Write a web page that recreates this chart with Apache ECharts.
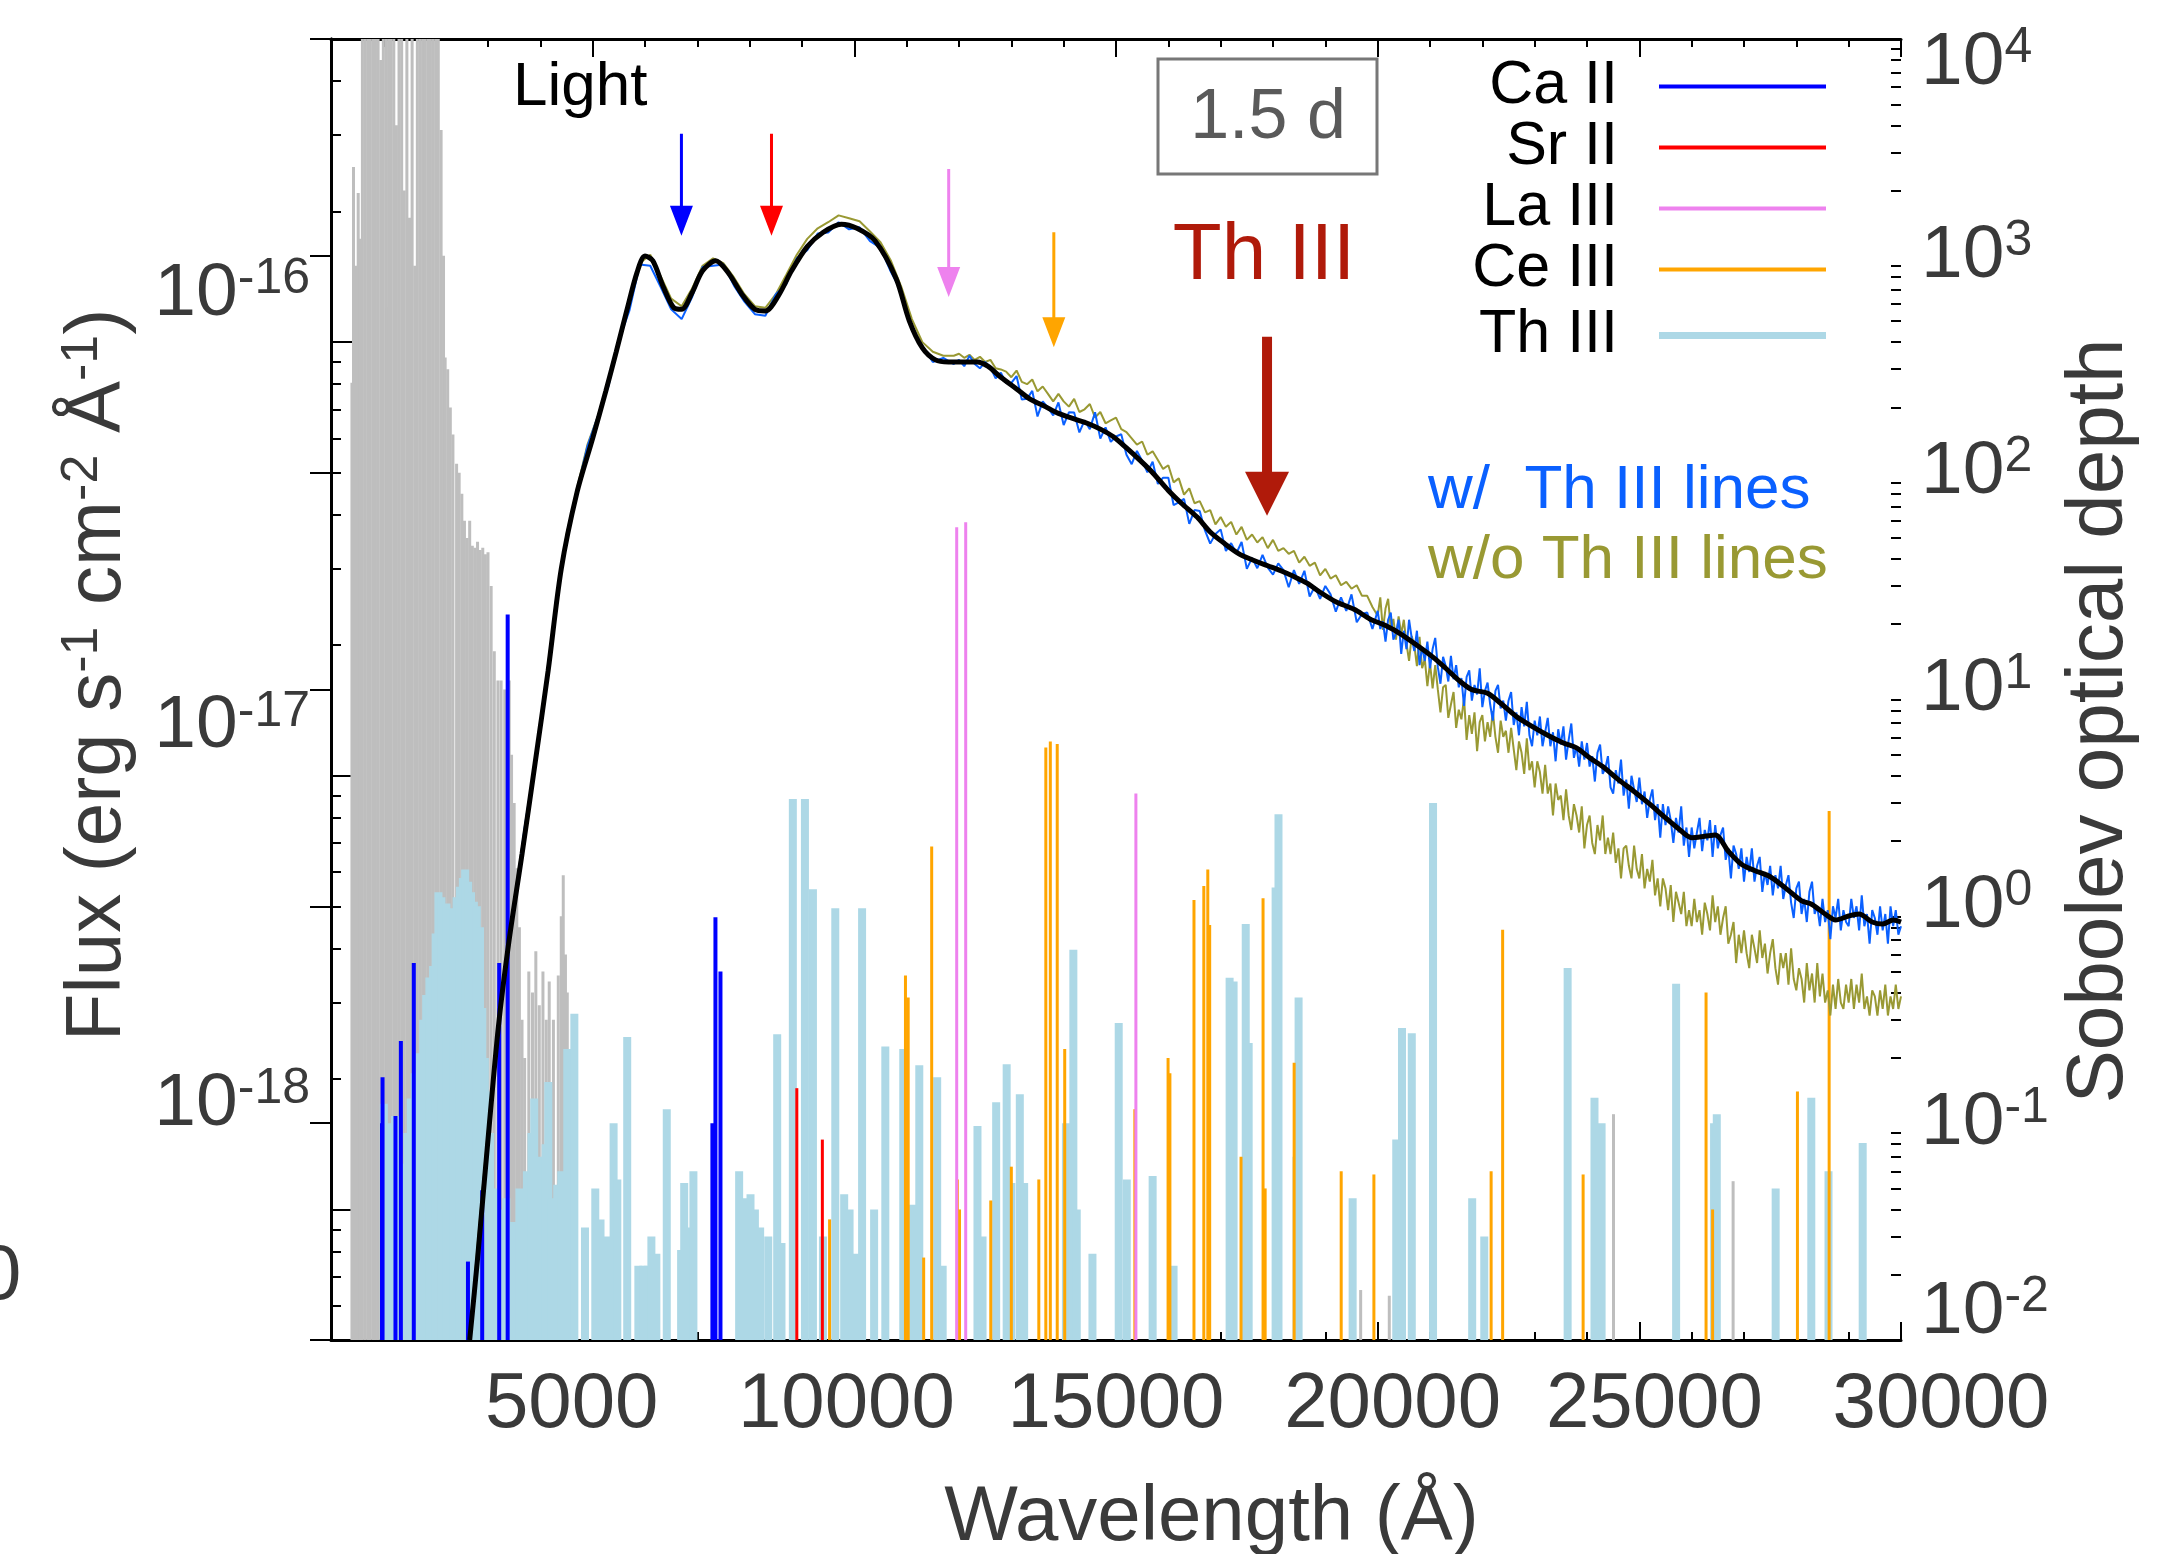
<!DOCTYPE html>
<html><head><meta charset="utf-8">
<script src="https://cdn.jsdelivr.net/npm/echarts@6/dist/echarts.min.js"></script>
<style>html,body{margin:0;padding:0;background:#fff}#c{width:2181px;height:1554px}</style>
</head><body><div id="c"></div>
<script>
// ================= DATA =================
// x: wavelength (Å); flux in units of 1e-17 erg s^-1 cm^-2 Å^-1; tau: Sobolev optical depth
const xLabelValues = [5000, 10000, 15000, 20000, 25000, 30000];
const fluxLabelValues = [0.1, 1, 10];
const fluxMinorValues = [0.06,0.07,0.08,0.09,0.2,0.3,0.4,0.5,0.6,0.7,0.8,0.9,2,3,4,5,6,7,8,9,20,30,40];
const tauLabelValues = [0.01,0.1,1,10,100,1000,10000];
const tauMinorValues = [0.02,0.03,0.04,0.05,0.06,0.07,0.08,0.09,0.2,0.3,0.4,0.5,0.6,0.7,0.8,0.9,2,3,4,5,6,7,8,9,
  20,30,40,50,60,70,80,90,200,300,400,500,600,700,800,900,2000,3000,4000,5000,6000,7000,8000,9000];

// smoothed (black) spectrum [wavelength, flux]
const smoothSpec = [[2650,0.05],[2800,0.077],[3000,0.145],[3200,0.265],[3400,0.415],[3650,0.66],[3900,1.07],[4150,1.75],[4400,3.0],[4700,4.5],[5000,6.0],[5250,7.7],[5450,9.5],[5650,11.8],[5850,14.5],[6000,15.8],[6150,15.4],[6350,13.4],[6550,12.0],[6700,11.9],[6900,13.0],[7100,14.6],[7350,15.4],[7600,14.4],[7850,12.9],[8100,11.9],[8300,11.8],[8550,12.8],[8800,14.6],[9100,16.6],[9400,17.9],[9750,18.7],[10050,18.3],[10400,17.1],[10800,14.0],[11050,11.2],[11300,9.7],[11550,9.1],[11800,9.0],[12100,9.0],[12350,9.0],[12550,8.8],[12800,8.3],[13100,7.8],[13350,7.4],[13650,7.1],[13900,6.85],[14200,6.65],[14450,6.5],[14700,6.3],[14950,6.05],[15200,5.7],[15450,5.35],[15700,5.0],[16000,4.55],[16250,4.25],[16550,3.95],[16800,3.65],[17050,3.45],[17350,3.25],[17600,3.15],[17900,3.05],[18150,2.97],[18400,2.88],[18650,2.78],[18900,2.65],[19200,2.52],[19550,2.42],[19850,2.3],[20150,2.22],[20450,2.12],[20750,2.0],[21050,1.88],[21300,1.77],[21550,1.66],[21800,1.58],[22100,1.55],[22350,1.47],[22650,1.37],[22950,1.30],[23250,1.24],[23550,1.19],[23800,1.16],[24050,1.10],[24300,1.05],[24600,0.98],[24900,0.92],[25200,0.86],[25500,0.80],[25750,0.755],[26000,0.72],[26250,0.725],[26450,0.73],[26700,0.67],[26950,0.625],[27200,0.605],[27500,0.585],[27800,0.55],[28100,0.515],[28300,0.505],[28550,0.48],[28750,0.465],[29000,0.475],[29200,0.48],[29450,0.46],[29650,0.455],[29850,0.465],[30000,0.46]];

// sampling grids for the noisy spectra
const waveCoarse = []; for (let w = 2700; w <= 11900; w += 200) waveCoarse.push(w);
const waveMid = []; for (let w = 12000; w <= 19900; w += 100) waveMid.push(w);
const waveFine = []; for (let w = 20000; w <= 30000; w += 50) waveFine.push(w);

// with Th III lines (blue)
const withThCoarse = [0.058,0.112,0.20,0.345,0.50,0.76,1.08,1.58,2.55,3.45,4.55,5.75,6.75,7.9,10.1,11.8,15.1,15.0,13.4,11.9,11.3,12.7,14.9,15.0,15.1,13.5,12.4,11.6,11.5,12.9,13.6,15.6,16.3,17.8,17.9,18.9,18.2,18.4,17.1,16.5,14.5,13.1,10.7,9.8,9.0,9.2,8.9];
const withThMid = [
 9.1,8.8,9.3,8.9,8.7,9.0,8.75,8.25,8.5,8.05,
 8.05,8.35,7.37,7.4,7.72,6.74,7.3,7.06,6.78,7.26,
 6.44,6.89,6.88,6.19,6.6,6.3,6.89,5.99,6.36,5.89,
 6.06,6.13,5.5,5.23,5.61,5.33,5.01,5.3,4.71,4.87,
 4.87,4.21,4.27,4.35,3.81,4.1,4.08,3.68,3.43,3.61,
 3.7,3.3,3.44,3.26,3.46,3.0,3.18,3.01,3.23,3.02,
 2.91,3.09,2.98,2.72,2.98,2.77,2.97,2.59,2.73,2.56,
 2.74,2.62,2.39,2.58,2.4,2.62,2.26,2.36,2.38,2.18];
const withThFine = [
 2.40,2.18,2.27,2.04,2.29,2.38,2.06,2.13,2.29,1.91,
 2.16,1.96,2.29,2.08,1.94,2.16,1.80,1.98,1.84,2.04,
 1.77,1.96,2.08,1.78,1.63,1.88,1.79,1.65,1.89,1.67,
 1.80,1.60,1.68,1.45,1.69,1.75,1.49,1.62,1.54,1.77,
 1.44,1.57,1.64,1.46,1.34,1.57,1.62,1.43,1.49,1.34,
 1.49,1.56,1.31,1.40,1.24,1.44,1.30,1.48,1.24,1.17,
 1.34,1.24,1.37,1.17,1.26,1.36,1.17,1.26,1.08,1.28,
 1.18,1.30,1.09,1.21,1.32,1.10,1.17,1.05,1.20,1.09,
 1.19,1.05,1.11,0.97,1.13,1.18,1.01,1.04,1.11,0.94,
 0.91,1.03,0.96,1.09,0.90,0.98,0.84,1.00,0.93,0.87,
 0.99,0.86,0.92,0.80,0.88,0.93,0.79,0.86,0.72,0.86,
 0.77,0.85,0.79,0.70,0.80,0.74,0.85,0.69,0.76,0.65,
 0.76,0.68,0.74,0.80,0.67,0.75,0.71,0.79,0.65,0.77,
 0.68,0.73,0.76,0.64,0.68,0.58,0.69,0.66,0.61,0.68,
 0.57,0.65,0.60,0.68,0.57,0.62,0.65,0.54,0.60,0.56,
 0.62,0.53,0.59,0.55,0.62,0.52,0.56,0.59,0.51,0.47,
 0.55,0.57,0.48,0.52,0.46,0.54,0.57,0.48,0.50,0.45,
 0.52,0.46,0.49,0.42,0.50,0.47,0.52,0.44,0.49,0.46,
 0.45,0.52,0.47,0.50,0.44,0.53,0.45,0.48,0.41,0.49,
 0.47,0.43,0.50,0.44,0.48,0.41,0.50,0.45,0.49,0.43,
 0.45];

// without Th III lines (olive)
const withoutThCoarse = [0.06,0.113,0.207,0.343,0.52,0.75,1.09,1.63,2.52,3.6,4.6,5.8,6.75,8.2,10.1,12.3,15.2,15.9,14.2,12.6,12.1,13.3,15.0,15.6,15.2,14.1,12.9,12.1,12.0,12.9,14.3,15.9,17.3,18.3,18.9,19.6,19.3,19.0,18.0,17.0,15.4,13.4,11.3,10.0,9.5,9.3,9.3];
const withoutThMid = [
 9.4,9.2,9.35,9.1,9.25,9.0,9.1,8.7,8.65,8.55,
 8.3,8.6,8.1,8.0,8.2,7.7,7.9,7.6,7.3,7.6,
 7.3,7.1,7.4,6.9,7.0,7.2,6.7,6.9,6.5,6.6,
 6.7,6.3,6.2,6.0,5.8,5.9,5.5,5.6,5.35,5.1,
 5.2,4.75,4.85,4.45,4.6,4.25,4.3,4.05,4.1,3.8,
 3.95,3.75,3.85,3.6,3.75,3.5,3.6,3.45,3.55,3.35,
 3.5,3.3,3.35,3.25,3.3,3.1,3.2,3.05,3.1,2.9,
 3.0,2.85,2.9,2.75,2.8,2.7,2.75,2.6,2.6,2.45];
const withoutThFine = [
 2.34,2.58,2.17,2.43,2.56,2.19,2.30,2.06,2.33,2.12,
 2.29,2.02,1.84,2.10,2.00,1.79,2.09,1.77,1.86,1.61,
 1.82,1.59,1.80,1.58,1.40,1.60,1.62,1.36,1.46,1.56,
 1.29,1.42,1.35,1.51,1.21,1.38,1.25,1.40,1.14,1.33,
 1.38,1.20,1.33,1.23,1.41,1.23,1.13,1.34,1.23,1.27,
 1.13,1.29,1.15,1.03,1.20,1.13,1.01,1.22,1.03,1.08,
 0.94,1.08,1.02,0.91,1.06,0.91,0.96,0.81,0.96,0.88,
 0.90,0.79,0.93,0.81,0.75,0.86,0.81,0.74,0.85,0.68,
 0.77,0.81,0.70,0.66,0.77,0.71,0.81,0.66,0.72,0.66,
 0.74,0.63,0.68,0.58,0.68,0.69,0.62,0.58,0.69,0.61,
 0.58,0.66,0.55,0.61,0.57,0.64,0.53,0.58,0.50,0.58,
 0.55,0.49,0.56,0.46,0.54,0.51,0.48,0.54,0.45,0.49,
 0.45,0.52,0.46,0.49,0.43,0.51,0.48,0.44,0.53,0.46,
 0.50,0.43,0.47,0.50,0.41,0.43,0.46,0.37,0.43,0.39,
 0.44,0.39,0.36,0.43,0.40,0.37,0.44,0.38,0.41,0.35,
 0.39,0.42,0.36,0.33,0.39,0.36,0.39,0.33,0.40,0.34,
 0.32,0.36,0.34,0.30,0.37,0.32,0.35,0.30,0.37,0.31,
 0.35,0.30,0.32,0.28,0.33,0.29,0.34,0.30,0.29,0.33,
 0.30,0.34,0.29,0.33,0.30,0.35,0.29,0.31,0.28,0.32,
 0.31,0.28,0.32,0.29,0.33,0.28,0.31,0.29,0.33,0.29,
 0.31];

// line lists [wavelength, Sobolev optical depth]
const caII = [[975,0.1],[985,0.163],[1232,0.108],[1335,0.239],[1582,0.548],[2617,0.023],[2889,0.049],[3214,0.548],[3376,22.2],[7288,0.1],[7346,0.89],[7442,0.5]];
const srII = [[8901,0.145],[9389,0.084]];
const laIII = [[11956,56],[12128,59],[15380,3.31]];
const ceIII = [[9527,0.036],[10977,0.48],[11029,0.38],[11325,0.024],[11478,1.89],[11968,0.055],[12010,0.04],[12607,0.044],[13000,0.063],[13525,0.055],[13659,5.4],[13745,5.76],[13877,5.6],[14020,0.22],[15360,0.116],[15995,0.2],[16030,0.17],[16490,1.07],[16678,1.24],[16754,1.48],[16790,0.82],[17389,0.07],[17810,1.09],[17850,0.05],[18404,0.19],[19303,0.06],[19928,0.058],[22168,0.06],[22388,0.78],[23926,0.058],[26275,0.40],[26400,0.04],[28021,0.14],[28627,2.75]];
const thIII = [[1010,0.123],[1070,0.1],[1139,0.089],[1224,0.108],[1290,0.07],[1396,0.065],[1460,0.09],[1523,0.13],[1600,0.17],[1693,0.21],[1760,0.3],[1818,0.39],[1880,0.47],[1951,0.53],[2000,0.75],[2053,1.16],[2110,1.1],[2160,1.0],[2206,1.03],[2270,0.97],[2334,0.98],[2400,1.1],[2462,1.23],[2520,1.35],[2563,1.48],[2620,1.3],[2676,1.16],[2730,1.05],[2787,1.0],[2847,0.8],[2890,0.34],[2940,0.2],[2975,0.14],[3040,0.09],[3145,0.05],[3271,0.04],[3350,0.045],[3482,0.035],[3600,0.05],[3744,0.06],[3830,0.09],[3883,0.13],[4000,0.07],[4100,0.08],[4152,0.155],[4208,0.045],[4323,0.052],[4400,0.06],[4515,0.22],[4650,0.32],[4853,0.033],[5050,0.05],[5150,0.036],[5280,0.03],[5400,0.1],[5471,0.055],[5660,0.25],[5873,0.022],[5968,0.022],[6050,0.022],[6122,0.03],[6217,0.025],[6416,0.116],[6690,0.026],[6749,0.053],[6810,0.033],[6925,0.06],[7799,0.06],[7900,0.045],[8016,0.047],[8100,0.04],[8200,0.033],[8355,0.03],[8526,0.257],[8608,0.028],[8825,3.13],[9056,3.13],[9209,1.2],[9400,0.03],[9636,0.98],[9806,0.047],[9909,0.04],[10037,0.025],[10148,0.98],[10378,0.04],[10592,0.226],[10935,0.22],[11105,0.042],[11241,0.185],[11583,0.163],[11688,0.022],[12353,0.097],[12450,0.03],[12710,0.125],[12911,0.187],[13000,0.053],[13162,0.136],[13245,0.053],[14043,0.10],[14185,0.63],[14250,0.04],[14550,0.025],[15052,0.29],[15206,0.055],[15700,0.057],[16100,0.022],[17171,0.468],[17247,0.45],[17479,0.83],[17535,0.234],[18050,1.22],[18105,2.66],[18450,0.07],[18489,0.38],[19522,0.045],[20355,0.084],[20465,0.275],[20652,0.26],[21058,3.0],[21806,0.045],[22037,0.03],[23630,0.52],[24143,0.131],[24279,0.10],[25703,0.44],[26428,0.10],[26480,0.11],[27605,0.05],[28286,0.131],[28615,0.06],[29268,0.081]];
const otherIons = [[400,260],[430,2570],[470,900],[520,1950],[560,1200],[600,30000],[650,30000],[700,30000],[750,30000],[800,30000],[850,30000],[900,30000],[950,8000],[1000,30000],[1050,30000],[1071,580],[1100,30000],[1150,30000],[1200,30000],[1250,4000],[1300,30000],[1350,30000],[1400,2000],[1450,30000],[1500,1500],[1550,30000],[1600,900],[1650,30000],[1700,30000],[1750,30000],[1800,30000],[1850,30000],[1900,30000],[1950,30000],[2000,30000],[2050,30000],[2104,3800],[2150,1000],[2181,340],[2230,300],[2280,200],[2330,150],[2400,110],[2449,100],[2500,80],[2550,60],[2600,50],[2650,60],[2700,46],[2750,45],[2800,48],[2850,44],[2900,45],[2950,42],[3000,43],[3060,30],[3120,15],[3190,11],[3250,11],[3320,10],[3405,11],[3450,5],[3500,3],[3550,1.5],[3600,0.8],[3650,0.3],[3700,0.2],[3780,0.5],[3850,0.4],[3914,0.62],[3980,0.35],[4050,0.5],[4113,0.3],[4170,0.45],[4250,0.3],[4343,0.48],[4400,0.9],[4438,1.39],[4480,0.6],[4515,0.4],[19675,0.017],[20222,0.016],[24506,0.11],[26792,0.054]];

// ================= STYLE =================
const F = '"Liberation Sans", Arial, Helvetica, sans-serif';
const TXT = '#3a3a3a';
const COL = {ca:'#0000ff', sr:'#ff0000', la:'#ee82ee', ce:'#ffa500', th:'#add8e6', other:'#bebebe',
             withTh:'#0a60ff', withoutTh:'#999933', thArrow:'#b01a0a'};

const pairUp = (waves, vals) => waves.map((w,i) => [w, vals[i]]);
const blueData = pairUp(waveCoarse, withThCoarse).concat(pairUp(waveMid, withThMid), pairUp(waveFine, withThFine));
const oliveData = pairUp(waveCoarse, withoutThCoarse).concat(pairUp(waveMid, withoutThMid), pairUp(waveFine, withoutThFine));

function lineList(name, data, color, width, z) {
  return {
    name, type:'custom', xAxisIndex:0, yAxisIndex:1, z, silent:true, animation:false,
    data, encode:{x:0, y:1}, itemStyle:{color},
    renderItem: function (params, api) {
      const w = api.value(0);
      const t = Math.min(api.value(1), 1e4);
      const p1 = api.coord([w, t]);
      const p0 = api.coord([w, 0.01]);
      return {type:'rect', shape:{x:p1[0]-width/2, y:p1[1], width:width, height:p0[1]-p1[1]}, style:{fill:color}};
    }
  };
}

const supL = {fontSize:50, lineHeight:56, verticalAlign:'top', color:TXT, fontFamily:F};
const baseL = {fontSize:75, lineHeight:80, color:TXT, fontFamily:F};
const gap = h => ({fontSize:8, lineHeight:h, color:'rgba(0,0,0,0)'});
const xRich = {};
const xPad = {5000:[0,42,0,0], 10000:[0,16,0,0], 15000:[0,0,0,0], 20000:[0,0,0,30], 25000:[0,0,0,30], 30000:[0,0,0,80]};
xLabelValues.forEach(v => { xRich['x'+v] = {fontSize:78, color:TXT, fontFamily:F, padding:xPad[v]}; });

const tickStyle = {color:'#000', width:2};
const axisLineStyle = {color:'#000', width:3};

const arrowSmall = h => 'path://M10,0L13,0L13,' + (h-30) + 'L23,' + (h-30) + 'L11.5,' + h + 'L0,' + (h-30) + 'L10,' + (h-30) + 'Z';

const option = {
  animation:false,
  backgroundColor:'#fff',
  grid:{left:331, right:280, top:39, bottom:214, containLabel:false, outerBoundsMode:'none'},
  xAxis:[{
    type:'value', min:0, max:30000, interval:5000, position:'bottom',
    axisLine:{onZero:false, lineStyle:axisLineStyle},
    axisTick:{inside:true, length:18, lineStyle:tickStyle},
    minorTick:{show:true, splitNumber:5, length:8, lineStyle:tickStyle},
    splitLine:{show:false}, minorSplitLine:{show:false},
    axisLabel:{margin:26, showMinLabel:false, showMaxLabel:true,
      formatter: v => (v > 0 ? '{x' + v + '|' + v + '}' : ''), rich:xRich},
    name:'Wavelength (Å)', nameLocation:'middle', nameGap:139,
    nameTextStyle:{fontSize:78, color:TXT, fontFamily:F, padding:[0,0,0,191]}
  },{
    type:'value', min:0, max:30000, interval:5000, position:'top',
    axisLine:{onZero:false, lineStyle:axisLineStyle},
    axisTick:{inside:true, length:18, lineStyle:tickStyle},
    minorTick:{show:true, splitNumber:5, length:8, lineStyle:tickStyle},
    splitLine:{show:false}, axisLabel:{show:false}
  }],
  yAxis:[{
    type:'log', logBase:10, min:0.05, max:50, position:'left',
    axisLine:{lineStyle:axisLineStyle},
    axisTick:{inside:true, length:21, lineStyle:tickStyle, customValues:fluxLabelValues},
    splitLine:{show:false},
    axisLabel:{margin:21, customValues:fluxLabelValues,
      formatter: v => { const e = Math.round(Math.log10(v)) - 17; return '{b|10}{s|' + e + '}\n{g' + (-e) + '| }'; },
      rich:{ b:baseL, s:supL, g16:gap(96), g17:gap(98), g18:gap(210) }},
    name:'{t|Flux (erg s}{s|-1}{t| cm}{s|-2}{t| Å}{s|-1}{t|)}', nameLocation:'middle', nameGap:192, nameRotate:90,
    nameTextStyle:{padding:[0,0,0,29], rich:{t:{fontSize:78, lineHeight:82, color:TXT, fontFamily:F},
      s:{fontSize:52, lineHeight:58, verticalAlign:'top', color:TXT, fontFamily:F}}}
  },{
    type:'log', logBase:10, min:0.01, max:10000, position:'right',
    axisLine:{lineStyle:axisLineStyle},
    axisTick:{inside:true, length:21, lineStyle:tickStyle, customValues:tauLabelValues},
    splitLine:{show:false},
    axisLabel:{margin:20, customValues:tauLabelValues,
      formatter: v => { const e = Math.round(Math.log10(v));
        if (e === 4) return '{gt| }\n{b|10}{s|4}';
        if (e === -2) return '{b|10}{s|-2}\n{gb| }';
        return '{b|10}{s|' + e + '}'; },
      rich:{ b:baseL, s:supL, gt:gap(48), gb:gap(56) }},
    name:'Sobolev optical depth', nameLocation:'middle', nameGap:147, nameRotate:90,
    nameTextStyle:{fontSize:80, color:TXT, fontFamily:F, padding:[0,63,0,0]}
  },{
    type:'log', logBase:10, min:0.05, max:50, position:'left',
    axisLine:{show:false}, axisLabel:{show:false}, splitLine:{show:false},
    axisTick:{inside:true, length:10, lineStyle:tickStyle, customValues:fluxMinorValues}
  },{
    type:'log', logBase:10, min:0.01, max:10000, position:'right',
    axisLine:{show:false}, axisLabel:{show:false}, splitLine:{show:false},
    axisTick:{inside:true, length:10, lineStyle:tickStyle, customValues:tauMinorValues}
  }],
  legend:[{
    data:['Ca II','Sr II','La III','Ce III'].map(n => ({name:n, icon:'rect'})),
    orient:'vertical', left:1418, top:56, itemWidth:167, itemHeight:4, itemGap:0, align:'right',
    padding:0, selectedMode:false, formatter: n => '{t|' + n + '}',
    textStyle:{rich:{t:{width:200, align:'right', fontSize:61, lineHeight:62, color:'#000', fontFamily:F, padding:[0,36,0,0]}}}
  },{
    data:[{name:'Th III', icon:'rect'}],
    orient:'vertical', left:1418, top:305, itemWidth:167, itemHeight:7, itemGap:0, align:'right',
    padding:0, selectedMode:false, formatter: n => '{t|' + n + '}',
    textStyle:{rich:{t:{width:200, align:'right', fontSize:61, lineHeight:62, color:'#000', fontFamily:F, padding:[0,36,0,0]}}}
  }],
  series:[
    lineList('other', otherIons, COL.other, 3, 1),
    lineList('Th III', thIII, COL.th, 8, 2),
    lineList('Ce III', ceIII, COL.ce, 3, 3),
    lineList('La III', laIII, COL.la, 3, 3),
    lineList('Sr II', srII, COL.sr, 3, 3),
    lineList('Ca II', caII, COL.ca, 4, 4),
    {name:'w/o Th III lines', type:'line', xAxisIndex:0, yAxisIndex:0, z:5, data:oliveData, symbol:'none', silent:true,
     lineStyle:{color:COL.withoutTh, width:2}},
    {name:'w/ Th III lines', type:'line', xAxisIndex:0, yAxisIndex:0, z:6, data:blueData, symbol:'none', silent:true,
     lineStyle:{color:COL.withTh, width:2}},
    {name:'smoothed', type:'line', xAxisIndex:0, yAxisIndex:0, z:7, data:smoothSpec, symbol:'none', silent:true,
     smooth:0.3, lineStyle:{color:'#000', width:5},
     markPoint:{silent:true, label:{show:false}, z:8, data:[
       {coord:[6696,17.6], symbol:arrowSmall(102), symbolSize:[23,102], symbolOffset:[0,'-50%'], itemStyle:{color:COL.ca}},
       {coord:[8417,17.6], symbol:arrowSmall(102), symbolSize:[23,102], symbolOffset:[0,'-50%'], itemStyle:{color:COL.sr}},
       {coord:[11803,12.7], symbol:arrowSmall(128), symbolSize:[23,128], symbolOffset:[0,'-50%'], itemStyle:{color:COL.la}},
       {coord:[13812,9.73], symbol:arrowSmall(115), symbolSize:[23,115], symbolOffset:[0,'-50%'], itemStyle:{color:COL.ce}},
       {coord:[17886,3.98], symbol:'path://M17,0L27,0L27,135L44,135L22,179L0,135L17,135Z', symbolSize:[44,179], symbolOffset:[0,'-50%'], itemStyle:{color:COL.thArrow}}
     ]}}
  ],
  graphic:[
    {type:'text', x:513, y:88, z:20, style:{text:'Light', fontSize:62, fontFamily:F, fill:'#000', verticalAlign:'middle'}},
    {type:'text', x:1264, y:257, z:20, style:{text:'Th III', fontSize:80, fontFamily:F, fill:COL.thArrow, align:'center', verticalAlign:'middle'}},
    {type:'rect', z:20, shape:{x:1158, y:59, width:219, height:115}, style:{fill:'none', stroke:'#777', lineWidth:3}},
    {type:'text', x:1268, y:119, z:20, style:{text:'1.5 d', fontSize:70, fontFamily:F, fill:'#5a5a5a', align:'center', verticalAlign:'middle'}},
    {type:'text', x:1428, y:491, z:20, style:{text:'w/  Th III lines', fontSize:62, fontFamily:F, fill:COL.withTh, verticalAlign:'middle'}},
    {type:'text', x:1428, y:561, z:20, style:{text:'w/o Th III lines', fontSize:62, fontFamily:F, fill:COL.withoutTh, verticalAlign:'middle'}},
    {type:'text', x:-22, y:1277, z:20, style:{text:'0', fontSize:78, fontFamily:F, fill:TXT, verticalAlign:'middle'}}
  ]
};

const chart = echarts.init(document.getElementById('c'), null, {renderer:'canvas', width:2181, height:1554});
chart.setOption(option);
</script>
</body></html>
